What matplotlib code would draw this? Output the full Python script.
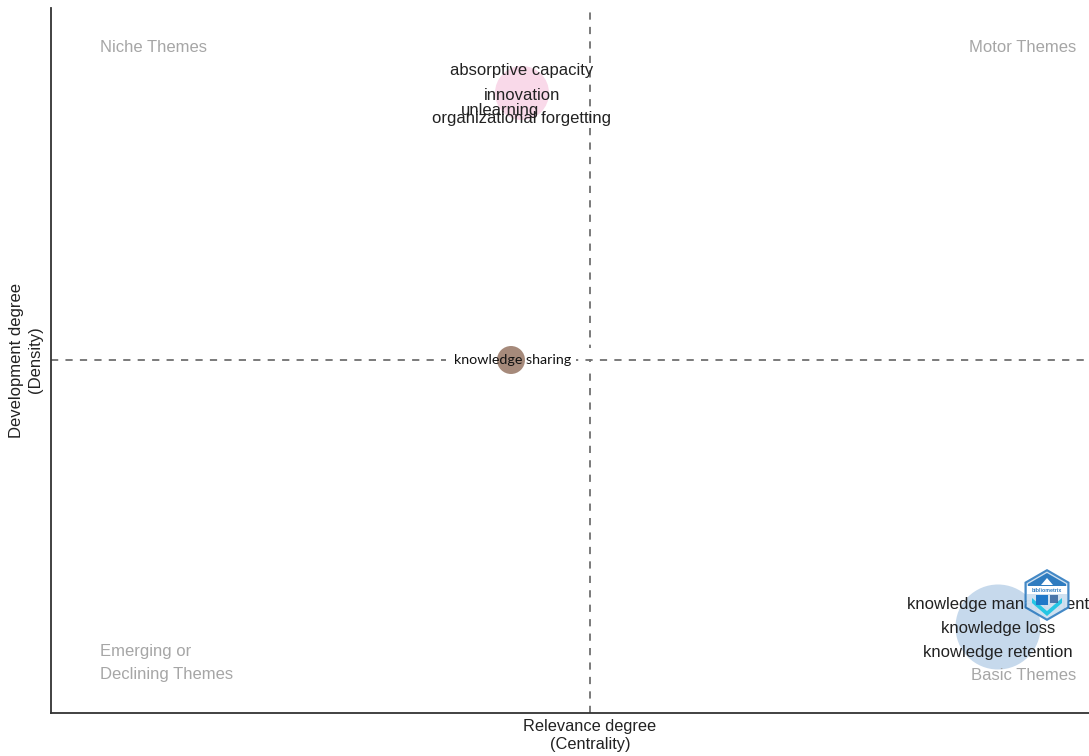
import matplotlib
matplotlib.use("Agg")
import matplotlib.pyplot as plt
from matplotlib.patches import RegularPolygon, Rectangle, Polygon

W, H = 1089, 756

# Thematic map clusters (axis units = arbitrary rank scale)
centrality = [471, 460, 947]
density = [620, 353, 86]
frequency = [54, 28, 85]
colors = ["#F9D9E9", "#A68A7B", "#C6D9EC"]

pink_labels = ["absorptive capacity", "innovation", "unlearning", "organizational forgetting"]
pink_label_x = [471, 471, 449, 471]
pink_label_y = [642, 618, 602, 594]
blue_labels = ["knowledge management", "knowledge loss", "knowledge retention"]
blue_label_x = [947, 947, 947]
blue_label_y = [109, 85, 60]
center_label = "knowledge sharing"

quadrants = ["Niche Themes", "Motor Themes", "Emerging or\nDeclining Themes", "Basic Themes"]

plt.rcParams["font.family"] = ["Liberation Sans", "DejaVu Sans"]
fig = plt.figure(figsize=(W / 100, H / 100), dpi=100)
ax = fig.add_axes([51 / W, 1 - 713 / H, (W - 51) / W, 705 / H])
ax.set_xlim(0, 1038)
ax.set_ylim(0, 705)
ax.set_xticks([])
ax.set_yticks([])
for s in ("top", "right"):
    ax.spines[s].set_visible(False)
for s in ("left", "bottom"):
    ax.spines[s].set_linewidth(1.3)
    ax.spines[s].set_color("#333333")

dash = dict(color="#707070", lw=1.3, ls=(0, (4, 4)), zorder=1)
ax.axvline(539, **dash)
ax.axhline(353, **dash)

# white plates behind the central label and across the vertical line
ax.add_patch(Rectangle((395, 341), 130, 24, fc="white", ec="none", zorder=2))
ax.add_patch(Rectangle((534, 355), 10, 10, fc="white", ec="none", zorder=2))
ax.add_patch(Rectangle((534, 341), 10, 10, fc="white", ec="none", zorder=2))

ax.scatter(centrality, density, s=[(f * 0.72) ** 2 for f in frequency],
           c=colors, linewidths=0, zorder=3)

for t, x, y in zip(pink_labels, pink_label_x, pink_label_y):
    ax.text(x, y, t, ha="center", va="center", fontsize=12, color="#222222", zorder=5)
for t, x, y in zip(blue_labels, blue_label_x, blue_label_y):
    ax.text(x, y, t, ha="center", va="center", fontsize=12, color="#222222", zorder=5)
ax.text(462, 353, center_label, ha="center", va="center", fontsize=10.3,
        family=["Lato", "DejaVu Sans"], color="#111111", zorder=5)

grey = "#A6A6A6"
qs = dict(fontsize=12, color=grey, zorder=4, linespacing=1.6)
ax.text(49, 665, quadrants[0], ha="left", va="center", **qs)
ax.text(1025, 665, quadrants[1], ha="right", va="center", **qs)
ax.text(49, 50, quadrants[2], ha="left", va="center", **qs)
ax.text(1025, 38, quadrants[3], ha="right", va="center", **qs)

# logo badge, laid over the label it crosses
cx, cy = 996, 118
lg = dict(ec="none", zorder=6)
ax.add_patch(RegularPolygon((cx, cy), 6, radius=26, fc="#2F7CC0", alpha=0.9, **lg))
ax.add_patch(RegularPolygon((cx, cy), 6, radius=23.5, fc="white", alpha=0.75, **lg))
ax.add_patch(Polygon([(cx - 19, cy + 6), (cx - 19, cy + 11), (cx, cy + 22), (cx + 19, cy + 11), (cx + 19, cy + 6)],
                     fc="#2F7CC0", **lg))
ax.add_patch(Polygon([(cx - 6, cy + 10), (cx, cy + 17), (cx + 6, cy + 10)], fc="white", **lg))
ax.add_patch(Rectangle((cx - 20, cy + 1), 40, 8, fc="white", **lg))
ax.text(cx, cy + 5, "bibliometrix", ha="center", va="center", fontsize=3.8, weight="bold", color="#2F7CC0", zorder=7)
ax.add_patch(Polygon([(cx - 15, cy - 8), (cx, cy - 21), (cx + 15, cy - 8), (cx + 15, cy - 3),
                      (cx, cy - 16), (cx - 15, cy - 3)], fc="#25C6E4", **lg))
ax.add_patch(Rectangle((cx - 11, cy - 10), 12, 10, fc="#1F78C8", **lg))
ax.add_patch(Rectangle((cx + 3, cy - 8), 8, 8, fc="#2A5C99", alpha=0.8, **lg))

fig.text(590 / W, 1 - 727 / H, "Relevance degree", ha="center", va="center", fontsize=11.8, color="#222222")
fig.text(590 / W, 1 - 744 / H, "(Centrality)", ha="center", va="center", fontsize=11.8, color="#222222")
fig.text(17 / W, 1 - 360 / H, "Development degree", rotation=90, ha="center", va="center", fontsize=12, color="#222222")
fig.text(36 / W, 1 - 360 / H, "(Density)", rotation=90, ha="center", va="center", fontsize=12, color="#222222")

fig.savefig("out.png", dpi=100, facecolor="white")
